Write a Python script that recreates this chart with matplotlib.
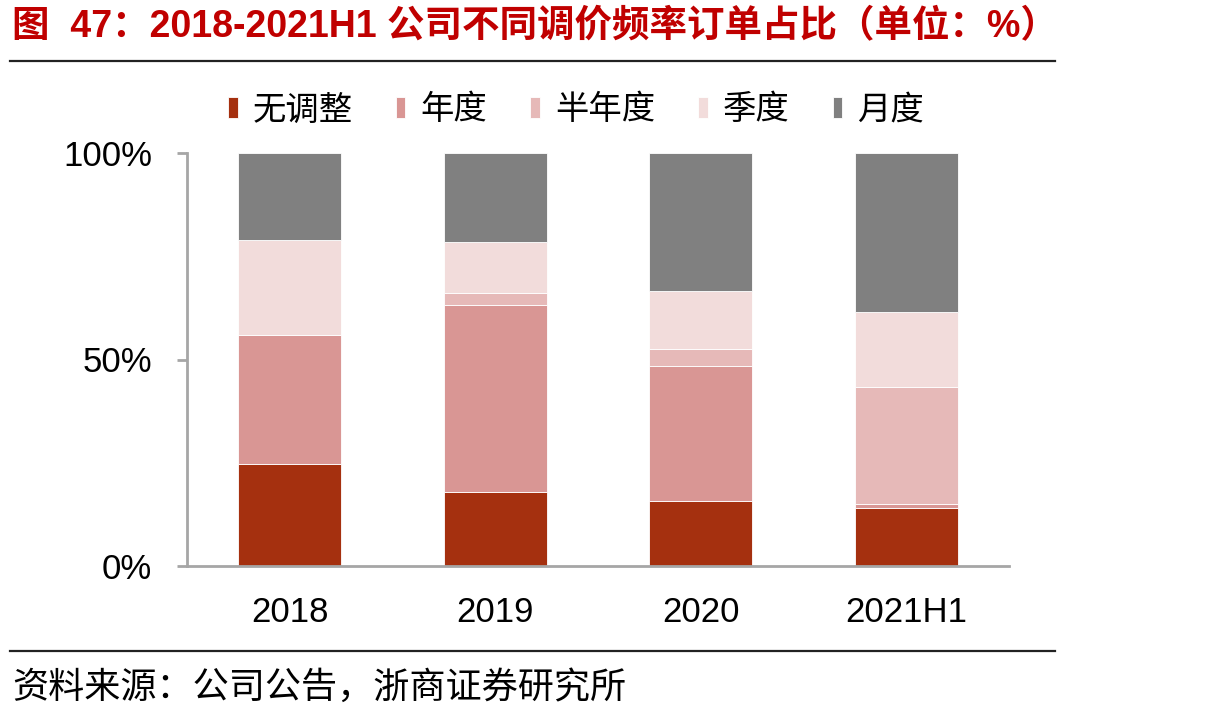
import matplotlib
matplotlib.use("Agg")
import matplotlib.pyplot as plt
import numpy as np

plt.rcParams['font.family'] = ['Liberation Sans', 'Noto Sans CJK SC', 'DejaVu Sans']

# -----------------------------
# Data (share of orders, %)
# -----------------------------
periods = ["2018", "2019", "2020", "2021H1"]
series_names = ["无调整", "年度", "半年度", "季度", "月度"]
no_adjust = [24.7, 17.9, 15.7, 14.0]
annual = [31.2, 45.4, 32.7, 1.0]
half_year = [0.0, 2.8, 4.2, 28.3]
quarterly = [23.1, 12.4, 13.9, 18.3]
monthly = [21.0, 21.5, 33.5, 38.4]
ytick_labels = ["0%", "50%", "100%"]

colors = ["#A5300F", "#D99694", "#E6B9B8", "#F2DCDB", "#808080"]
axis_gray = "#A6A6A6"

fig = plt.figure(figsize=(12.1, 7.19), dpi=100)
ax = fig.add_axes([0.1545, 0.2132, 0.6794, 0.5736])

x = np.arange(len(periods))
series = [no_adjust, annual, half_year, quarterly, monthly]
bottom = np.zeros(len(periods))
for name, vals, c in zip(series_names, series, colors):
    vals = np.array(vals) / 100.0
    ax.bar(x, vals, width=0.5, bottom=bottom, color=c, label=name,
           edgecolor="white", linewidth=0.6)
    bottom += vals

ax.set_xlim(-0.5, 3.5)
ax.set_ylim(0, 1)
ax.set_xticks(x)
ax.set_xticklabels(periods, fontsize=25)
ax.set_yticks([0, 0.5, 1.0])
ax.set_yticklabels(ytick_labels, fontsize=25)
ax.tick_params(axis="x", length=0, pad=22)
ax.tick_params(axis="y", length=7, width=2, color=axis_gray, pad=18)

for side in ["top", "right"]:
    ax.spines[side].set_visible(False)
for side in ["left", "bottom"]:
    ax.spines[side].set_color(axis_gray)
    ax.spines[side].set_linewidth(2)

# legend
fig.legend(loc="center", bbox_to_anchor=(576 / 1210, 1 - 110 / 719), ncol=5,
           frameon=False, handlelength=0.28, handleheight=0.6,
           handletextpad=0.45, columnspacing=1.3,
           prop={'family': ['Noto Sans CJK SC'], 'size': 24})

# title and rules
fig.text(12 / 1210, 1 - 27 / 719, "图  47：2018-2021H1 公司不同调价频率订单占比（单位：%）",
         fontsize=27, fontweight="bold", color="#C00000", va="center", ha="left")
fig.add_artist(plt.Line2D([10 / 1210, 1055 / 1210], [1 - 61 / 719, 1 - 61 / 719],
                          color="#222222", linewidth=1.6))
fig.add_artist(plt.Line2D([10 / 1210, 1055 / 1210], [1 - 651 / 719, 1 - 651 / 719],
                          color="#222222", linewidth=1.6))
fig.text(12 / 1210, 1 - 688 / 719, "资料来源：公司公告，浙商证券研究所",
         fontsize=26, family=['Noto Sans CJK SC'], color="black", va="center", ha="left")

fig.savefig("out.png", dpi=100)
